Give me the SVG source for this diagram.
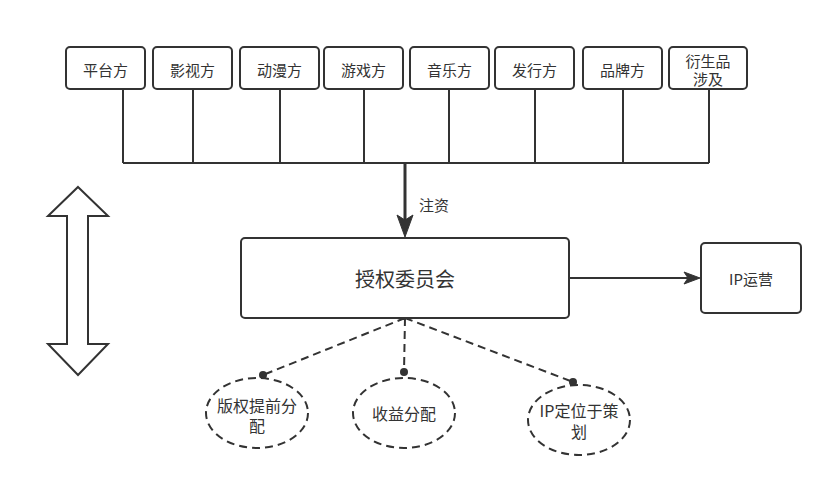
<svg xmlns="http://www.w3.org/2000/svg" width="833" height="487" viewBox="0 0 833 487">
<style>
.box{fill:#fff;stroke:#333;stroke-width:2}
.ell{fill:#fff;stroke:#333;stroke-width:2;stroke-dasharray:8 5}
.t{font-family:"Noto Sans CJK SC","Noto Sans",sans-serif;fill:#333;text-anchor:middle;dominant-baseline:central}
.ln{fill:none;stroke:#333;stroke-width:2}
.dl{fill:none;stroke:#333;stroke-width:2;stroke-dasharray:8 5}
</style>
<defs>
<marker id="ah" viewBox="0 0 10 10" refX="9" refY="5" markerWidth="6" markerHeight="6" markerUnits="userSpaceOnUse" orient="auto">
<path d="M0,0 L10,5 L0,10 L2.5,5 Z" fill="#333"/>
</marker>
</defs>
<rect width="833" height="487" fill="#fff"/>
<g id="connectors">
<path class="ln" d="M123,89 V163 M193,89 V163 M280,89 V163 M364,89 V163 M449,89 V163 M535,89 V163 M623,89 V163 M709,89 V163 M123,163 H709"/>
<path d="M405,163 V220" stroke="#333" stroke-width="3" fill="none"/>
<path d="M397,215 L405,237 L413,215 L405,220 Z" fill="#333" stroke="#333" stroke-width="1"/>
<text class="t" x="434" y="204" font-size="15">注资</text>
<path class="ln" d="M569,278 H688"/>
<path d="M684,272 L700,278 L684,284 L688,278 Z" fill="#333" stroke="#333" stroke-width="1"/>
<path class="dl" d="M405,318 L263,375 M405,318 L404,372 M405,318 L573,382"/>
<circle cx="263" cy="375" r="4" fill="#333"/>
<circle cx="404" cy="372" r="4" fill="#333"/>
<circle cx="573" cy="382" r="4" fill="#333"/>
</g>
<g id="n1"><rect class="box" x="66" y="47" width="79" height="42" rx="4"/><text class="t" x="105.5" y="69" font-size="15">平台方</text></g>
<g id="n2"><rect class="box" x="153" y="47" width="79" height="42" rx="4"/><text class="t" x="192.5" y="69" font-size="15">影视方</text></g>
<g id="n3"><rect class="box" x="240" y="47" width="79" height="42" rx="4"/><text class="t" x="279.5" y="69" font-size="15">动漫方</text></g>
<g id="n4"><rect class="box" x="324" y="47" width="79" height="42" rx="4"/><text class="t" x="363.5" y="69" font-size="15">游戏方</text></g>
<g id="n5"><rect class="box" x="410" y="47" width="79" height="42" rx="4"/><text class="t" x="449.5" y="69" font-size="15">音乐方</text></g>
<g id="n6"><rect class="box" x="495" y="47" width="79" height="42" rx="4"/><text class="t" x="534.5" y="69" font-size="15">发行方</text></g>
<g id="n7"><rect class="box" x="583" y="47" width="79" height="42" rx="4"/><text class="t" x="622.5" y="69" font-size="15">品牌方</text></g>
<g id="n8"><rect class="box" x="669" y="47" width="78" height="42" rx="4"/><text class="t" x="708" y="60" font-size="15">衍生品</text><text class="t" x="708" y="78" font-size="15">涉及</text></g>
<g id="main"><rect class="box" x="241" y="238" width="328" height="80" rx="4"/><text class="t" x="405" y="278" font-size="20">授权委员会</text></g>
<g id="ipop"><rect class="box" x="701" y="243" width="100" height="70" rx="4"/><text class="t" x="751" y="278" font-size="15">IP运营</text></g>
<g id="dbl"><path d="M78,187 L108,216 H88 V344 H108 L78,375 L48,344 H67 V216 H48 Z" fill="#fff" stroke="#333" stroke-width="2"/></g>
<g id="e1"><ellipse class="ell" cx="257" cy="413" rx="51" ry="35"/><text class="t" x="257" y="405" font-size="16">版权提前分</text><text class="t" x="257" y="425" font-size="16">配</text></g>
<g id="e2"><ellipse class="ell" cx="404" cy="413" rx="51" ry="35"/><text class="t" x="404" y="413" font-size="16">收益分配</text></g>
<g id="e3"><ellipse class="ell" cx="579" cy="420" rx="51" ry="35"/><text class="t" x="579" y="410" font-size="16">IP定位于策</text><text class="t" x="579" y="431" font-size="16">划</text></g>
</svg>
